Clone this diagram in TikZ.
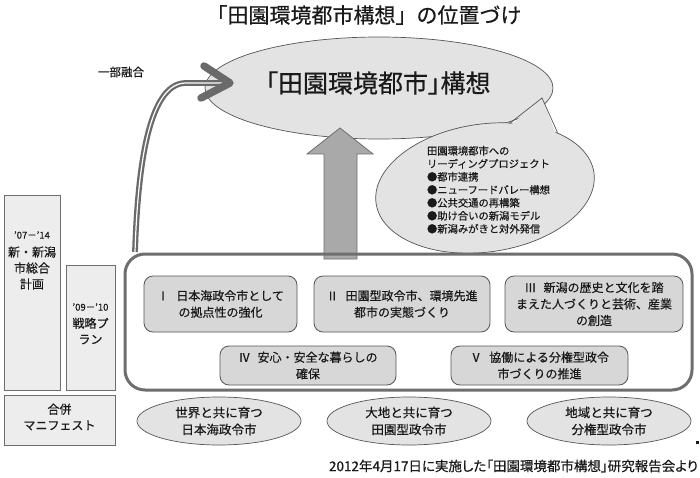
\documentclass[tikz,border=0pt]{standalone}
\usepackage{fontspec}
\setmainfont{Noto Sans CJK JP}[FakeBold=0.5]
\newfontfamily\propfont{Noto Sans CJK JP}[FakeBold=0.5, RawFeature=+palt]
\usetikzlibrary{shapes.geometric}
\definecolor{ellfill}{HTML}{E3E3E3}
\definecolor{boxfill}{HTML}{D7D7D7}
\definecolor{lfill}{HTML}{EDEDED}
\definecolor{linec}{HTML}{555555}
\definecolor{framec}{HTML}{6E6E6E}
\definecolor{arrc}{HTML}{6A6A6A}
\definecolor{varr}{HTML}{A9A9A9}
\definecolor{txt}{HTML}{1A1A1A}
\begin{document}
\begin{tikzpicture}[x=1pt,y=-1pt,
  every node/.style={inner sep=0pt, outer sep=0pt, text=txt, align=center},
  ibox/.style={draw=linec, fill=boxfill, line width=0.8pt, rounded corners=9pt,
    minimum height=56pt, font=\fontsize{12}{16.5}\selectfont},
  lbox/.style={draw=framec, fill=lfill, line width=0.8pt},
  bell/.style={ellipse, draw=linec, fill=ellfill, line width=0.7pt,
    minimum width=164pt, minimum height=48pt, font=\fontsize{12.5}{17}\selectfont},
  ltxt/.style={font=\fontsize{12}{16}\selectfont}
]
\useasboundingbox (0,0) rectangle (700,478);
\fill[white] (0,0) rectangle (700,478);

% title
\node[font=\fontsize{21}{24}\selectfont] (title) at (364,15) {「田園環境都市構想」の位置づけ};

% big ellipse
\node[ellipse, draw=linec, fill=ellfill, line width=0.7pt,
  minimum width=348pt, minimum height=102pt] (big) at (379,88) {};
\node[font=\fontsize{25}{28}\propfont] (bigt) at (378,83) {「田園環境都市」構想};

% part-merge label and curved double arrow
\node[font=\fontsize{11.5}{14}\selectfont] (merge) at (121,72) {一部融合};
\coordinate (cs) at (135,252);
\coordinate (ce) at (222,83);
\coordinate (tip) at (230,83);
\draw[arrc, double=white, line width=2.3pt, double distance=1.2pt]
  (cs) .. controls (138,160) and (150,83) .. (186,83) -- (ce);
\draw[arrc, line width=7.5pt, line cap=round, line join=round]
  (204,66) -- (tip) -- (201,98);

% vertical thick arrow
\coordinate (va) at (340,128);
\draw[fill=varr, draw=framec, line width=0.8pt]
  (324,259) -- (324,154) -- (307,154) -- (va) -- (373,154) -- (357,154) -- (357,259) -- cycle;

% bubble
\draw[fill=ellfill, draw=linec, line width=0.7pt, rotate around={8:(485,188)}]
  (485,188) ellipse [x radius=110, y radius=64];
\coordinate (bt) at (542,98);
\fill[ellfill] (511,125) -- (bt) -- (556,134) -- (553,143) -- (513,137) -- cycle;
\draw[linec, line width=0.7pt] (509.5,123.5) -- (bt) -- (557.5,132.5);
\node[font=\fontsize{10.3}{13}\selectfont, align=left, anchor=north west] (bubt) at (427,146)
  {田園環境都市への\\リーディングプロジェクト\\●都市連携\\●ニューフードバレー構想\\●公共交通の再構築\\●助け合いの新潟モデル\\●新潟みがきと対外発信};

% frame
\draw[framec, line width=3pt, rounded corners=20pt] (125,254) rectangle (692,390);

% inner boxes
\node[ibox, minimum width=153pt] (b1) at (220.5,304) {Ⅰ\hspace{0.6em}日本海政令市として\\の拠点性の強化};
\node[ibox, minimum width=176pt] (b2) at (402,304) {Ⅱ\hspace{0.6em}田園型政令市、環境先進\\都市の実態づくり};
\node[ibox, minimum width=178pt] (b3) at (594,304) {Ⅲ\hspace{0.6em}新潟の歴史と文化を踏\\まえた人づくりと芸術、産業\\の創造};
\node[ibox, minimum width=176pt, minimum height=39pt] (b4) at (308,365.5) {Ⅳ\hspace{0.6em}安心・安全な暮らしの\\確保};
\node[ibox, minimum width=177pt, minimum height=39pt] (b5) at (539.5,365.5) {Ⅴ\hspace{0.6em}協働による分権型政令\\市づくりの推進};

% bottom ellipses
\node[bell] (e1) at (219,421) {世界と共に育つ\\日本海政令市};
\node[bell] (e2) at (409,421) {大地と共に育つ\\田園型政令市};
\node[bell] (e3) at (609,421) {地域と共に育つ\\分権型政令市};

% left column
\node[lbox, minimum width=56pt, minimum height=195pt] (la) at (32,292.5) {};
\node[lbox, minimum width=49pt, minimum height=125pt] (lb) at (90.5,327.5) {};
\node[lbox, minimum width=111pt, minimum height=50pt] (lc) at (59.5,420) {};
\node[font=\fontsize{9.5}{10}\selectfont] (lay) at (32,235) {'07－'14};
\node[ltxt] (lat) at (32,268) {新・新潟\\市総合\\計画};
\node[font=\fontsize{9.5}{10}\selectfont] (lby) at (90.5,307) {'09－'10};
\node[ltxt] (lbt) at (90.5,331) {戦略プ\\ラン};
\node[ltxt] (lct) at (59.5,417) {合併\\マニフェスト};

% stray mark and footer
\fill[txt] (696,441) rectangle (699,444);
\node[font=\fontsize{13.5}{15}\propfont, anchor=east] (foot) at (698,466)
  {2012年4月17日に実施した「田園環境都市構想」研究報告会より};
\end{tikzpicture}
\end{document}
